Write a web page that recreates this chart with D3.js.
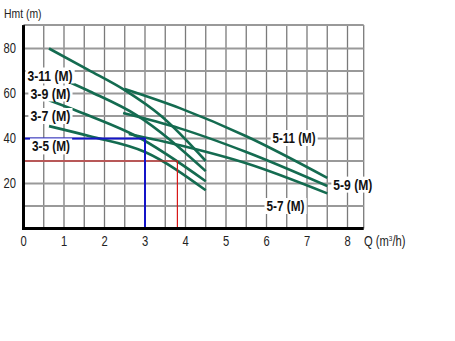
<!DOCTYPE html>
<html><head><meta charset="utf-8">
<script src="https://cdn.jsdelivr.net/npm/d3@7"></script>
<style>html,body{margin:0;padding:0;background:#fff;}svg{display:block;}</style>
</head><body><svg id="c" width="455" height="341"></svg>
<script>
// ---- data ----
const seriesNames = ["3-11 (M)", "3-9 (M)", "3-7 (M)", "3-5 (M)", "5-11 (M)", "5-9 (M)", "5-7 (M)"];
const q311 = [0.63, 1.6, 2.5, 3.4, 4.5];     const h311 = [80, 70.5, 61.5, 50, 30];
const q39  = [0.63, 1.64, 2.79, 4.5];        const h39  = [69, 60.9, 50.4, 25.5];
const q37  = [0.63, 1.64, 2.79, 4.5];        const h37  = [57, 50, 41, 21];
const q35  = [0.63, 1.64, 3, 4.5];           const h35  = [45.5, 41, 34, 17];
const q511 = [2.5, 3.86, 5.5, 7.5];          const h511 = [62, 53.5, 41, 22.5];
const q59  = [2.46, 3.86, 5.5, 7.5];         const h59  = [51.3, 44.5, 34, 18.9];
const q57  = [2.6, 3.86, 5.5, 7.5];          const h57  = [42, 37, 29, 15.6];
const opBlue = [3, 40];
const opRed = [3.8, 30];
const xTicks = [0, 1, 2, 3, 4, 5, 6, 7, 8];
const yTicks = [20, 40, 60, 80];
const xGrid = d3.range(0.5, 8.01, 0.5).concat([8.4]);
const yGrid = d3.range(10, 80.1, 10).concat([90.4]);
const labelAnchors = [[0.1, 68], [0.17, 60], [0.17, 50], [0.21, 36.5], [6.15, 40.2], [7.65, 19.5], [6.0, 10]];
const labelWidths = [45, 40, 40, 38, 43, 39, 38];

// ---- chart ----
const svg = d3.select("#c");
const x = d3.scaleLinear().domain([0, 8.4]).range([23.5, 363.7]);
const y = d3.scaleLinear().domain([0, 90.4]).range([228.5, 25.1]);
const font = "'Liberation Sans',Arial,sans-serif";

const g = svg.append("g");
g.selectAll("line.vg").data(xGrid).join("line")
  .attr("x1", d => x(d)).attr("x2", d => x(d))
  .attr("y1", y(0)).attr("y2", y(90.4))
  .attr("stroke", "#7a7a7a").attr("stroke-width", 1.3);
g.selectAll("line.hg").data(yGrid).join("line")
  .attr("x1", x(0)).attr("x2", x(8.4))
  .attr("y1", d => y(d)).attr("y2", d => y(d))
  .attr("stroke", "#999").attr("stroke-width", 2);

// curves
const allQ = [q311, q39, q37, q35, q511, q59, q57];
const allH = [h311, h39, h37, h35, h511, h59, h57];
const line = d3.line().x(d => x(d[0])).y(d => y(d[1])).curve(d3.curveMonotoneX);
seriesNames.forEach((n, i) => {
  const pts = allQ[i].map((q, j) => [q, allH[i][j]]);
  g.append("path").attr("d", line(pts)).attr("fill", "none")
    .attr("stroke", "#146b50").attr("stroke-width", 2.6);
});

// operating points
g.append("path").attr("d", `M${x(0)},${y(opRed[1])}H${x(opRed[0])}V${y(0)}`)
  .attr("fill", "none").attr("stroke", "#d81818").attr("stroke-width", 1.2);
g.append("path").attr("d", `M${x(0)},${y(opBlue[1])}H${x(opBlue[0])}V${y(0)}`)
  .attr("fill", "none").attr("stroke", "#1414c8").attr("stroke-width", 2);

// axes
g.append("line").attr("x1", x(0)).attr("x2", x(0)).attr("y1", y(90.4)).attr("y2", y(0) + 1.5)
  .attr("stroke", "#000").attr("stroke-width", 3);
g.append("line").attr("x1", x(0) - 1.5).attr("x2", x(8.4)).attr("y1", y(0)).attr("y2", y(0))
  .attr("stroke", "#000").attr("stroke-width", 3);

// series labels
seriesNames.forEach((n, i) => {
  const t = g.append("text").text(n)
    .attr("x", x(labelAnchors[i][0])).attr("y", y(labelAnchors[i][1]))
    .attr("dominant-baseline", "central")
    .attr("textLength", labelWidths[i]).attr("lengthAdjust", "spacingAndGlyphs")
    .attr("font-family", font).attr("font-weight", "bold").attr("font-size", 14.5).attr("fill", "#111");
  const b = t.node().getBBox();
  g.insert("rect", () => t.node()).attr("x", b.x - 2).attr("y", b.y)
    .attr("width", b.width + 4).attr("height", b.height).attr("fill", "#fff");
});

// tick labels (narrow type)
function narrow(sel, sx) {
  return sel.append("g").attr("transform", `translate(${sx.x},${sx.y}) scale(0.8,1)`)
    .append("text").attr("dominant-baseline", "central")
    .attr("font-family", font).attr("font-size", 14).attr("fill", "#222");
}
yTicks.forEach(d => narrow(svg, {x: 16, y: y(d)}).attr("text-anchor", "end").text(d));
xTicks.forEach(d => narrow(svg, {x: x(d), y: 242}).attr("text-anchor", "middle").text(d));
narrow(svg, {x: 4, y: 13}).attr("font-size", 13).text("Hmt (m)");
const qt = narrow(svg, {x: 364, y: 242});
qt.append("tspan").text("Q (m");
qt.append("tspan").attr("font-size", 8).attr("dy", -4).text("3");
qt.append("tspan").attr("dy", 4).text("/h)");
</script></body></html>
